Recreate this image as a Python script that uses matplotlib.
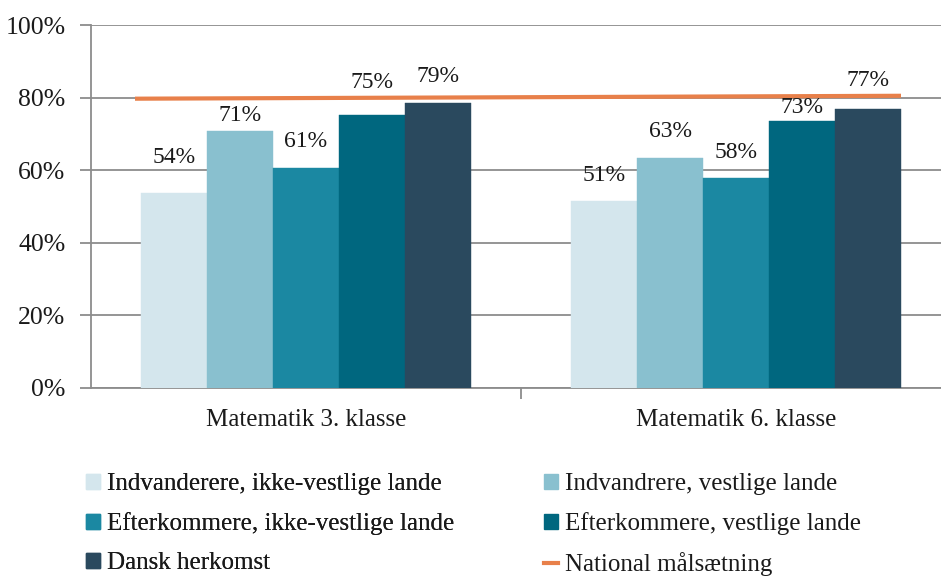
import matplotlib
matplotlib.use("Agg")
import matplotlib.pyplot as plt
from matplotlib.patches import Patch
from matplotlib.lines import Line2D

categories = ["Matematik 3. klasse", "Matematik 6. klasse"]
series_names = ["Indvanderere, ikke-vestlige lande", "Indvandrere, vestlige lande",
                "Efterkommere, ikke-vestlige lande", "Efterkommere, vestlige lande",
                "Dansk herkomst"]
values = [
    [53.7, 51.5],
    [70.7, 63.4],
    [60.7, 57.9],
    [75.1, 73.5],
    [78.6, 76.9],
]
value_labels = [
    ["54%", "51%"],
    ["71%", "63%"],
    ["61%", "58%"],
    ["75%", "73%"],
    ["79%", "77%"],
]
target_name = "National målsætning"
target_values = [79.7, 80.5]
yticks = [0, 20, 40, 60, 80, 100]
ytick_labels = ["0%", "20%", "40%", "60%", "80%", "100%"]

colors = ["#D4E6ED", "#89C0CF", "#1B88A2", "#00677F", "#2A495E"]
target_color = "#E8804A"
grid_color = "#8C8C8C"
# label gaps above bar tops (pixels)
label_gaps = [[28, 18], [8, 19], [18, 18], [25, 6], [18, 21]]

plt.rcParams['font.family'] = ['Liberation Serif', 'DejaVu Serif']

W, H = 941, 576
fig = plt.figure(figsize=(W / 100, H / 100), dpi=100)
ax = fig.add_axes([91 / W, (H - 388) / H, (951 - 91) / W, (388 - 25) / H])

bw = 66 / 430
x = list(range(len(categories)))
for i, (name, vals) in enumerate(zip(series_names, values)):
    xs = [c + (i - 2) * bw for c in x]
    ax.bar(xs, vals, width=bw, color=colors[i], edgecolor=colors[i], linewidth=0.3, zorder=3)
    for xx, v, lab, g in zip(xs, vals, value_labels[i], label_gaps[i]):
        ax.annotate(lab, (xx, v), xytext=(0, g * 0.72 - 2), textcoords="offset points",
                    ha="center", va="bottom", fontsize=17, color="#1a1a1a", zorder=5)

# target line spans from left of first group to right of second group
tx = [x[0] - 2.5 * bw - 6 / 430, x[1] + 2.5 * bw]
ax.plot(tx, target_values, color=target_color, linewidth=3, zorder=4, solid_capstyle="butt")

ax.set_xlim(-0.5, 1.5)
ax.set_ylim(0, 100)
ax.set_yticks(yticks)
ax.set_yticklabels(ytick_labels, fontsize=18.5, color="#1a1a1a")
ax.yaxis.grid(True, color=grid_color, linewidth=1.3, zorder=0)
ax.set_axisbelow(True)
ax.tick_params(axis="y", length=8, width=1.3, color=grid_color, pad=10.5)

ax.set_xticks([0.5], minor=True)
ax.set_xticks(x)
ax.set_xticklabels(categories, fontsize=18, color="#1a1a1a")
ax.tick_params(axis="x", which="major", length=0, pad=15)
ax.tick_params(axis="x", which="minor", length=8, width=1.3, color=grid_color)

for s in ["top", "right"]:
    ax.spines[s].set_visible(False)
for s in ["left", "bottom"]:
    ax.spines[s].set_color(grid_color)
    ax.spines[s].set_linewidth(1.3)

handles = [Patch(facecolor=c, edgecolor=c) for c in colors]
handles.append(Line2D([0], [0], color=target_color, linewidth=3))
labels = series_names + [target_name]
leg_kw = dict(loc="upper left", ncol=1, frameon=False, fontsize=18,
              handlelength=0.56, handleheight=0.56, handletextpad=0.28,
              labelspacing=0.68, borderaxespad=0, borderpad=0, labelcolor="#1a1a1a")
left_idx = [0, 2, 4]
right_idx = [1, 3, 5]
leg1 = fig.legend([handles[k] for k in left_idx], [labels[k] for k in left_idx],
                  bbox_to_anchor=(86 / W, 1 - 473 / H), **leg_kw)
fig.add_artist(leg1)
leg2 = fig.legend([handles[k] for k in right_idx], [labels[k] for k in right_idx],
                  bbox_to_anchor=(544 / W, 1 - 473 / H), **leg_kw)

fig.savefig("out.png", dpi=100)
